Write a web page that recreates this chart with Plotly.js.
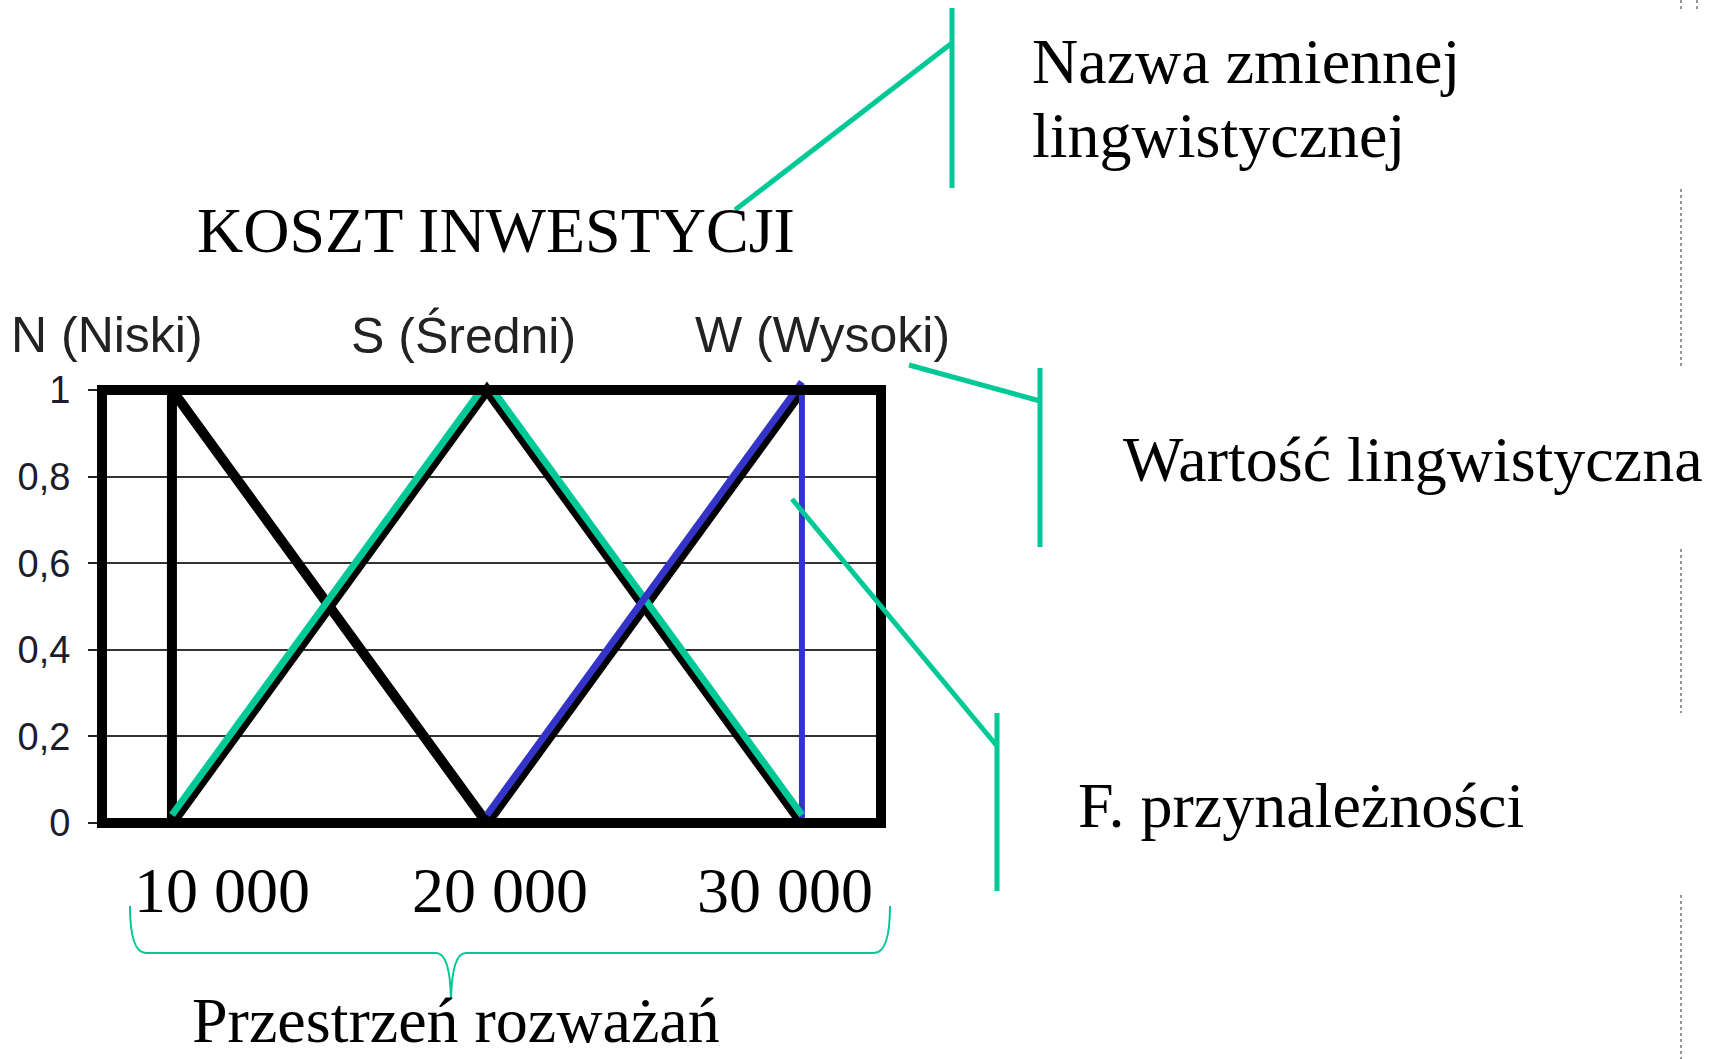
<!DOCTYPE html>
<html>
<head>
<meta charset="utf-8">
<script src="https://cdn.plot.ly/plotly-3.0.1.min.js"></script>
<style>
  html, body { margin: 0; padding: 0; background: #fff; }
  #chart { width: 1721px; height: 1059px; }
</style>
</head>
<body>
<div id="chart"></div>
<script>
// Fuzzy sets of the linguistic variable "KOSZT INWESTYCJI"
const variableName = 'KOSZT INWESTYCJI';
const termNames = ['N (Niski)', 'S (Średni)', 'W (Wysoki)'];

// Membership functions (x = cost, y = membership degree)
const nX = [10000, 10000, 20000];
const nY = [0, 1, 0];
const sX = [10000, 20000, 30000];
const sY = [0, 1, 0];
const wX = [20000, 30000, 30000];
const wY = [0, 1, 0];

// Universe of discourse labels
const costLabels = ['10 000', '20 000', '30 000'];

// Membership axis
const yTickVals = [0, 0.2, 0.4, 0.6, 0.8, 1];
const yTickText = ['0', '0,2', '0,4', '0,6', '0,8', '1'];

// Callout captions
const captions = ['Nazwa zmiennej', 'lingwistycznej', 'Wartość lingwistyczna', 'F. przynależności', 'Przestrzeń rozważań'];

const W = 1721, H = 1059;
const px = v => v / W;           // pixel -> paper x
const py = v => 1 - v / H;       // pixel -> paper y

const GREEN = '#00C896';
const BLUE = '#3434C8';
const SERIF = 'Liberation Serif, Times New Roman, serif';
const SANS = 'Liberation Sans, Arial, sans-serif';

// plot frame in pixels
const frameL = 102, frameR = 881, frameTop = 390, frameBot = 823;
const unit = frameBot - frameTop;            // pixels per 1.0 membership
const pad = 0.05;                            // extra y room so line caps are not clipped
const lift = 8 / unit;                       // colored strokes sit a few px above their dark shadow

const xDomain = [px(frameL), px(frameR)];
const yDomainWide = [py(frameBot + pad * unit), py(frameTop - pad * unit)];
const yDomainFrame = [py(frameBot), py(frameTop)];

const traces = [
  // dark strokes / shadows
  { x: nX, y: nY, xaxis: 'x', yaxis: 'y', mode: 'lines', line: { color: '#000', width: 10 }, hoverinfo: 'skip' },
  { x: sX, y: sY, xaxis: 'x', yaxis: 'y', mode: 'lines', line: { color: '#000', width: 10 }, hoverinfo: 'skip' },
  { x: wX.slice(0, 2), y: wY.slice(0, 2), xaxis: 'x', yaxis: 'y', mode: 'lines', line: { color: '#000', width: 10 }, hoverinfo: 'skip' },
  // W right edge
  { x: wX.slice(1), y: wY.slice(1), xaxis: 'x', yaxis: 'y', mode: 'lines', line: { color: BLUE, width: 6 }, hoverinfo: 'skip' },
  // colored S (clipped to the frame)
  { x: sX, y: sY, xaxis: 'x', yaxis: 'y2', mode: 'lines', line: { color: GREEN, width: 7 }, hoverinfo: 'skip' },
  // colored W rising edge
  { x: wX.slice(0, 2), y: wY.slice(0, 2), xaxis: 'x', yaxis: 'y3', mode: 'lines', line: { color: BLUE, width: 7 }, hoverinfo: 'skip' }
];

const shapes = [];
// frame
shapes.push({ type: 'rect', xref: 'x domain', yref: 'y', x0: 0, x1: 1, y0: 0, y1: 1,
  line: { color: '#000', width: 10 }, layer: 'above' });

// callout lines
function seg(x0, y0, x1, y1, w) {
  shapes.push({ type: 'line', xref: 'paper', yref: 'paper', x0: px(x0), y0: py(y0), x1: px(x1), y1: py(y1),
    line: { color: GREEN, width: w || 5 } });
}
seg(952, 8, 952, 188);
seg(735, 210, 952, 43);
seg(1040, 368, 1040, 547);
seg(909, 365, 1040, 401);
seg(997, 713, 997, 891);
seg(792, 499, 997, 746);

// brace under the universe of discourse
const P = (x, y) => px(x).toFixed(5) + ',' + py(y).toFixed(5);
const bracePath = 'M' + P(130, 906) +
  ' Q' + P(130, 953) + ' ' + P(146, 953) +
  ' L' + P(436, 953) +
  ' Q' + P(450, 953) + ' ' + P(451, 999) +
  ' Q' + P(452, 953) + ' ' + P(466, 953) +
  ' L' + P(874, 953) +
  ' Q' + P(890, 953) + ' ' + P(890, 906);
shapes.push({ type: 'path', xref: 'paper', yref: 'paper', path: bracePath, line: { color: GREEN, width: 2 } });

// dotted guides at the right edge
[[0, 9], [189, 368], [549, 713], [895, 1059]].forEach(([a, b]) => {
  shapes.push({ type: 'line', xref: 'paper', yref: 'paper', x0: px(1681), x1: px(1681), y0: py(a), y1: py(b),
    line: { color: '#777', width: 1.5, dash: 'dot' } });
});
shapes.push({ type: 'line', xref: 'paper', yref: 'paper', x0: px(1697), x1: px(1697), y0: py(0), y1: py(9),
  line: { color: '#777', width: 1.5, dash: 'dot' } });

// text
const annotations = [];
function txt(text, x, yMid, font, size, color) {
  annotations.push({ text: text, xref: 'paper', yref: 'paper', x: px(x), y: py(yMid),
    xanchor: 'left', yanchor: 'middle', showarrow: false,
    font: { family: font, size: size, color: color || '#000' } });
}
txt(variableName, 195, 231, SERIF, 64);
txt(captions[0], 1030, 62, SERIF, 64);
txt(captions[1], 1030, 135, SERIF, 64);
txt(captions[2], 1121, 459, SERIF, 64);
txt(captions[3], 1076, 805, SERIF, 64);
txt(captions[4], 190, 1020, SERIF, 64);
txt(costLabels[0], 132, 890, SERIF, 64);
txt(costLabels[1], 410, 890, SERIF, 64);
txt(costLabels[2], 695, 890, SERIF, 64);
txt(termNames[0], 9, 335, SANS, 50, '#222');
txt(termNames[1], 349, 335, SANS, 50, '#222');
txt(termNames[2], 693, 335, SANS, 50, '#222');

const hidden = { visible: false, fixedrange: true };
const layout = {
  width: W, height: H, autosize: false,
  margin: { l: 0, r: 0, t: 0, b: 0, pad: 0 },
  paper_bgcolor: '#fff', plot_bgcolor: 'rgba(0,0,0,0)',
  showlegend: false,
  xaxis: { domain: xDomain, range: [7780, 32510], visible: false, anchor: 'y', fixedrange: true },
  yaxis: {
    domain: yDomainWide, range: [-pad, 1 + pad], anchor: 'x',
    tickvals: yTickVals, ticktext: yTickText,
    ticks: 'outside', ticklen: 13, tickwidth: 2, tickcolor: '#222',
    ticklabelstandoff: 10,
    tickfont: { family: SANS, size: 38, color: '#1c1c2c' },
    showgrid: true, gridcolor: '#333', gridwidth: 2,
    zeroline: false, showline: false, fixedrange: true
  },
  yaxis2: Object.assign({ domain: yDomainFrame, range: [-lift, 1 - lift], anchor: 'x' }, hidden),
  yaxis3: Object.assign({ domain: yDomainWide, range: [-pad - lift, 1 + pad - lift], anchor: 'x' }, hidden),
  shapes: shapes,
  annotations: annotations
};

Plotly.newPlot('chart', traces, layout, { staticPlot: true, displayModeBar: false });
</script>
</body>
</html>
